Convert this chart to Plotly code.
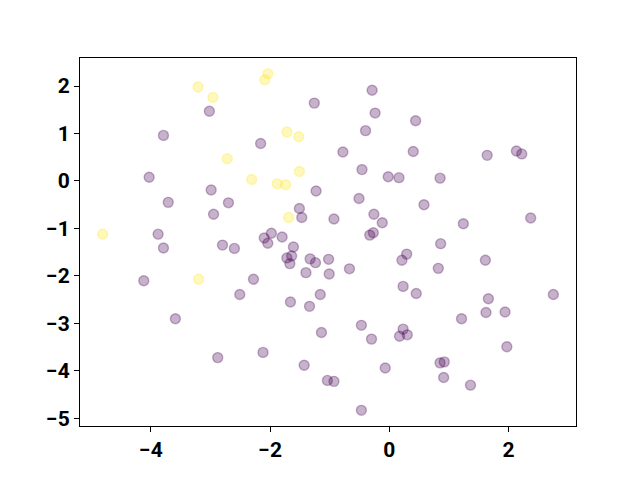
import plotly.graph_objects as go

# label 1 = yellow points, label 0 = purple points
x_yellow = [-3.21, -2.96, -2.04, -2.09, -2.72, -1.72, -1.52, -2.31, -1.51, -1.88, -1.74, -1.69, -4.81, -3.20]
y_yellow = [1.98, 1.76, 2.26, 2.13, 0.47, 1.03, 0.93, 0.03, 0.20, -0.06, -0.08, -0.77, -1.12, -2.07]

x_purple = [
    -3.02, -3.79, -4.03, -2.99,
    -0.29, -1.26, -0.24, 0.44, -0.40, -2.16, -0.78, 0.40, -0.46, -0.02, 0.16, -1.23,
    1.64, 2.13, 2.22, 0.85,
    -3.71, -2.70, -2.95, -3.88, -3.79, -2.80, -2.60, -4.12, -2.51, -2.28,
    -0.51, -1.51, -1.47, -0.93, -0.26, -0.12, -0.27, -0.33, -1.98, -2.10, -2.04, -1.80,
    -1.61, -1.72, -1.64, -1.67, -1.33, -1.24, -1.02, -0.67, -1.40, -1.01, 0.29, 0.21,
    0.23, 0.45, -1.16, -1.66, -1.34,
    0.58, 1.24, 2.37, 0.86, 1.61, 0.82, 1.66, 2.75,
    -3.59, -2.88,
    -0.47, -1.14, -0.30, 0.23, 0.17, 0.30, -2.12, -1.43, -0.07, -1.04, -0.93, -0.47,
    1.62, 1.94, 1.21, 1.97, 0.85, 0.92, 0.91, 1.36,
]
y_purple = [
    1.47, 0.96, 0.08, -0.19,
    1.91, 1.64, 1.43, 1.27, 1.06, 0.79, 0.61, 0.62, 0.24, 0.09, 0.07, -0.21,
    0.54, 0.63, 0.57, 0.06,
    -0.45, -0.46, -0.70, -1.12, -1.41, -1.35, -1.42, -2.10, -2.39, -2.07,
    -0.37, -0.58, -0.77, -0.80, -0.70, -0.88, -1.09, -1.14, -1.10, -1.20, -1.31, -1.18,
    -1.39, -1.62, -1.58, -1.74, -1.64, -1.72, -1.65, -1.85, -1.93, -1.96, -1.54, -1.67,
    -2.22, -2.37, -2.39, -2.55, -2.64,
    -0.50, -0.90, -0.78, -1.32, -1.67, -1.84, -2.48, -2.39,
    -2.90, -3.72,
    -3.04, -3.19, -3.33, -3.12, -3.27, -3.24, -3.61, -3.88, -3.94, -4.20, -4.22, -4.83,
    -2.77, -2.76, -2.90, -3.49, -3.83, -3.81, -4.14, -4.30,
]

xs = x_purple + x_yellow
ys = y_purple + y_yellow
labels = [0] * len(x_purple) + [1] * len(x_yellow)

PURPLE = "rgba(68,1,84,0.3)"
YELLOW = "rgba(253,231,37,0.3)"

fig = go.Figure(
    go.Scatter(
        x=xs,
        y=ys,
        mode="markers",
        marker=dict(
            size=10,
            color=labels,
            colorscale=[[0, PURPLE], [1, YELLOW]],
            cmin=0,
            cmax=1,
            line=dict(width=1.4, color=[PURPLE if v == 0 else YELLOW for v in labels]),
        ),
        showlegend=False,
    )
)

axis_style = dict(
    showgrid=False,
    zeroline=False,
    showline=True,
    linecolor="black",
    linewidth=1,
    mirror=True,
    ticks="outside",
    ticklen=5,
    tickcolor="black",
    tickfont=dict(family="Roboto", size=21, color="black", weight="bold"),
)

fig.update_xaxes(range=[-5.19, 3.13], dtick=2, tick0=0, **axis_style)
fig.update_yaxes(range=[-5.16, 2.59], dtick=1, tick0=0, **axis_style)

# page body adds an 8px offset, so margins are shifted to compensate
fig.update_layout(
    width=640,
    height=480,
    margin=dict(l=72, r=72, t=50, b=62),
    plot_bgcolor="white",
    paper_bgcolor="white",
)

fig.write_html("out.html")
